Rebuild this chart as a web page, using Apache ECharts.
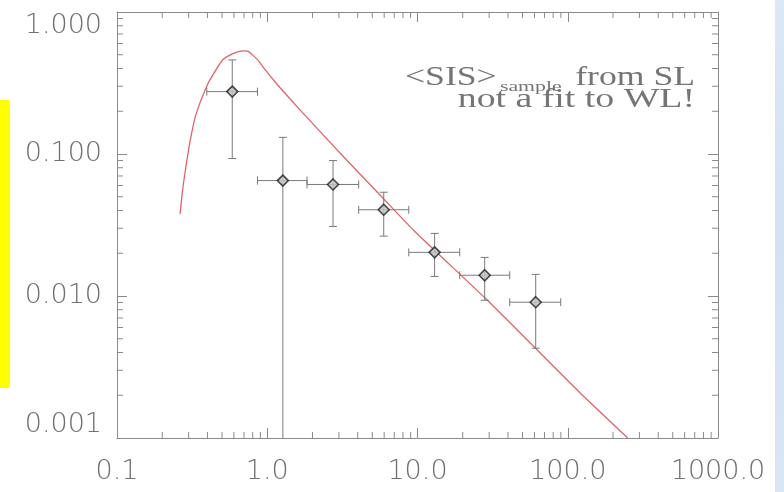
<!DOCTYPE html>
<html>
<head>
<meta charset="utf-8">
<script src="https://cdn.jsdelivr.net/npm/echarts@6/dist/echarts.min.js"></script>
<style>
html,body{margin:0;padding:0;background:#fff;}
#chart{width:784px;height:492px;}
</style>
</head>
<body>
<div id="chart"></div>
<script>
// ---- data ----
const X_MIN = 0.1, X_MAX = 1000;
const Y_MIN = 0.001, Y_MAX = 1;

// data points (diamonds) with error bars
const pointX   = [0.585, 1.27, 2.74, 5.96, 13.0, 28.0, 61.2];
const pointY   = [0.275, 0.065, 0.061, 0.0405, 0.0203, 0.0140, 0.00904];
const errXLow  = [0.396, 0.861, 1.84, 4.06, 8.75, 19.1, 41.1];
const errXHigh = [0.861, 1.84, 4.06, 8.75, 19.1, 41.1, 89.8];
const errYLow  = [0.0929, 0.0005, 0.0309, 0.0264, 0.01374, 0.00933, 0.00429];
const errYHigh = [0.460, 0.131, 0.0899, 0.0538, 0.0276, 0.0187, 0.0142];

// <SIS> model curve
const curveX = [0.263, 0.270, 0.2767, 0.284, 0.2917, 0.307, 0.331, 0.3575, 0.376, 0.406, 0.4385, 0.4733, 0.512, 0.567, 0.628, 0.695, 0.740, 0.811, 0.875, 0.944, 1.16, 1.42, 2.035, 3.40, 5.67, 9.45, 28.4, 61.2, 122, 251];
const curveY = [0.0379, 0.0497, 0.0617, 0.0744, 0.0900, 0.124, 0.181, 0.231, 0.264, 0.319, 0.366, 0.418, 0.466, 0.4995, 0.522, 0.533, 0.530, 0.491, 0.453, 0.406, 0.311, 0.244, 0.161, 0.0899, 0.0510, 0.02895, 0.00959, 0.00427, 0.00206, 0.001];

// minor tick values
const xMinorTicks = [0.2,0.3,0.4,0.5,0.6,0.7,0.8,0.9, 2,3,4,5,6,7,8,9, 20,30,40,50,60,70,80,90, 200,300,400,500,600,700,800,900];
const yMinorTicks = [0.002,0.003,0.004,0.005,0.006,0.007,0.008,0.009, 0.02,0.03,0.04,0.05,0.06,0.07,0.08,0.09, 0.2,0.3,0.4,0.5,0.6,0.7,0.8,0.9];

// ---- chart ----
const AXIS_COLOR = '#8a8a8a';
const LABEL_COLOR = '#707070';
const TEXT_COLOR = '#757575';
const chart = echarts.init(document.getElementById('chart'), null, {renderer: 'canvas'});

const errData = pointX.map((x, i) => [x, pointY[i], errXLow[i], errXHigh[i], errYLow[i], errYHigh[i]]);
const curveData = curveX.map((x, i) => [x, curveY[i]]);
const scatterData = pointX.map((x, i) => [x, pointY[i]]);

function vline(x, y1, y2, color) {
  return {type: 'line', shape: {x1: x, y1: y1, x2: x, y2: y2}, style: {stroke: color, lineWidth: 1}};
}
function hline(x1, x2, y, color) {
  return {type: 'line', shape: {x1: x1, y1: y, x2: x2, y2: y}, style: {stroke: color, lineWidth: 1}};
}

const baseAxis = {
  type: 'log', logBase: 10,
  axisLine: {show: true, onZero: false, lineStyle: {color: AXIS_COLOR, width: 1}},
  axisTick: {show: true, inside: true, length: 10, lineStyle: {color: AXIS_COLOR}},
  splitLine: {show: false},
  minorTick: {show: false}
};

const option = {
  backgroundColor: '#ffffff',
  animation: false,
  grid: {left: 117, right: 66, top: 12, bottom: 54, containLabel: false},
  xAxis: [
    Object.assign({}, baseAxis, {
      min: X_MIN, max: X_MAX, position: 'bottom',
      axisLabel: {show: true, margin: 20, color: LABEL_COLOR, fontSize: 27, fontFamily: 'DejaVu Sans', fontWeight: 300,
        formatter: v => Number(v).toFixed(1)}
    }),
    Object.assign({}, baseAxis, {
      min: X_MIN, max: X_MAX, position: 'top', axisLabel: {show: false}
    })
  ],
  yAxis: [
    Object.assign({}, baseAxis, {
      min: Y_MIN, max: Y_MAX, position: 'left',
      axisLabel: {show: true, margin: 15, color: LABEL_COLOR, fontSize: 27, fontFamily: 'DejaVu Sans', fontWeight: 300,
        verticalAlignMinLabel: 'bottom', verticalAlignMaxLabel: 'top',
        formatter: v => Number(v).toFixed(3)}
    }),
    Object.assign({}, baseAxis, {
      min: Y_MIN, max: Y_MAX, position: 'right', axisLabel: {show: false}
    })
  ],
  graphic: [
    {type: 'rect', left: 0, top: 100, shape: {width: 10, height: 288}, style: {fill: '#ffff00'}, silent: true},
    {type: 'rect', x: 775, y: 0, shape: {width: 9, height: 492},
      style: {fill: new echarts.graphic.LinearGradient(0, 0, 0, 1, [
        {offset: 0, color: '#dde8f6'}, {offset: 0.5, color: '#d2e1f3'}, {offset: 1, color: '#dbe6f5'}])},
      silent: true},
    {type: 'text', x: 405, y: 78, scaleX: 1.32, silent: true,
      style: {text: '<SIS>', font: '27px "Liberation Serif"', fill: TEXT_COLOR, align: 'left', verticalAlign: 'middle'}},
    {type: 'text', x: 500, y: 87, scaleX: 1.45, silent: true,
      style: {text: 'sample', font: '15px "Liberation Serif"', fill: TEXT_COLOR, align: 'left', verticalAlign: 'middle'}},
    {type: 'text', x: 695, y: 78, scaleX: 1.32, silent: true,
      style: {text: 'from SL', font: '27px "Liberation Serif"', fill: TEXT_COLOR, align: 'right', verticalAlign: 'middle'}},
    {type: 'text', x: 695, y: 100, scaleX: 1.40, silent: true,
      style: {text: 'not a fit to WL!', font: '27px "Liberation Serif"', fill: TEXT_COLOR, align: 'right', verticalAlign: 'middle'}}
  ],
  series: [
    {
      type: 'custom', name: 'xMinor', silent: true, clip: false, z: 3,
      xAxisIndex: 0, yAxisIndex: 0,
      data: xMinorTicks.map(v => [v, Y_MIN]),
      renderItem: (params, api) => {
        const v = api.value(0);
        const b = api.coord([v, Y_MIN]);
        const t = api.coord([v, Y_MAX]);
        return {type: 'group', children: [vline(b[0], b[1], b[1] - 6, AXIS_COLOR), vline(t[0], t[1], t[1] + 6, AXIS_COLOR)]};
      }
    },
    {
      type: 'custom', name: 'yMinor', silent: true, clip: false, z: 3,
      xAxisIndex: 0, yAxisIndex: 0,
      data: yMinorTicks.map(v => [X_MIN, v]),
      renderItem: (params, api) => {
        const v = api.value(1);
        const l = api.coord([X_MIN, v]);
        const r = api.coord([X_MAX, v]);
        return {type: 'group', children: [hline(l[0], l[0] + 6, l[1], AXIS_COLOR), hline(r[0], r[0] - 6, r[1], AXIS_COLOR)]};
      }
    },
    {
      type: 'line', name: 'SIS', data: curveData, xAxisIndex: 0, yAxisIndex: 0,
      showSymbol: false, symbol: 'none', smooth: 0.2, clip: true, z: 2,
      lineStyle: {color: '#e0636b', width: 1.3}
    },
    {
      type: 'custom', name: 'errors', silent: true, clip: true, z: 4,
      xAxisIndex: 0, yAxisIndex: 0,
      data: errData,
      encode: {x: 0, y: 1},
      renderItem: (params, api) => {
        const x = api.value(0), y = api.value(1);
        const pL = api.coord([api.value(2), y]);
        const pR = api.coord([api.value(3), y]);
        const pB = api.coord([x, api.value(4)]);
        const pT = api.coord([x, api.value(5)]);
        const c = 4, col = '#7a7a7a';
        return {type: 'group', children: [
          hline(pL[0], pR[0], pL[1], col),
          vline(pL[0], pL[1] - c, pL[1] + c, col),
          vline(pR[0], pR[1] - c, pR[1] + c, col),
          vline(pB[0], pB[1], pT[1], col),
          hline(pB[0] - c, pB[0] + c, pB[1], col),
          hline(pT[0] - c, pT[0] + c, pT[1], col)
        ]};
      }
    },
    {
      type: 'scatter', name: 'points', data: scatterData, xAxisIndex: 0, yAxisIndex: 0,
      symbol: 'diamond', symbolSize: 11, z: 5,
      itemStyle: {color: '#c4c4c4', borderColor: '#1e1e1e', borderWidth: 1.6}
    }
  ]
};
chart.setOption(option);
</script>
</body>
</html>
